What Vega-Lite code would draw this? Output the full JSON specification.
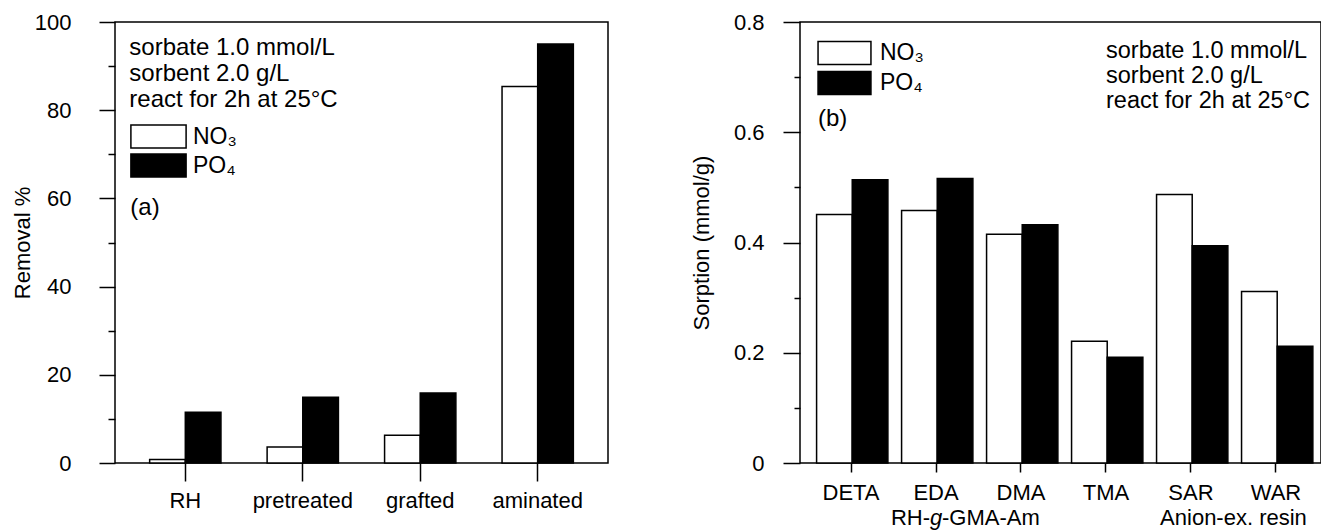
{
  "$schema": "https://vega.github.io/schema/vega-lite/v6.json",
  "background": "white",
  "padding": {"left": 10, "top": 10, "right": 0, "bottom": 0},
  "datasets": {
    "a": [
      {"sample": "RH", "ion": "NO₃", "value": 0.8},
      {"sample": "RH", "ion": "PO₄", "value": 11.5},
      {"sample": "pretreated", "ion": "NO₃", "value": 3.6},
      {"sample": "pretreated", "ion": "PO₄", "value": 14.9},
      {"sample": "grafted", "ion": "NO₃", "value": 6.3},
      {"sample": "grafted", "ion": "PO₄", "value": 15.9},
      {"sample": "aminated", "ion": "NO₃", "value": 85.4},
      {"sample": "aminated", "ion": "PO₄", "value": 95.0}
    ],
    "b": [
      {"sorbent": "DETA", "ion": "NO₃", "value": 0.451},
      {"sorbent": "DETA", "ion": "PO₄", "value": 0.514},
      {"sorbent": "EDA", "ion": "NO₃", "value": 0.458},
      {"sorbent": "EDA", "ion": "PO₄", "value": 0.516},
      {"sorbent": "DMA", "ion": "NO₃", "value": 0.415},
      {"sorbent": "DMA", "ion": "PO₄", "value": 0.432},
      {"sorbent": "TMA", "ion": "NO₃", "value": 0.221},
      {"sorbent": "TMA", "ion": "PO₄", "value": 0.192},
      {"sorbent": "SAR", "ion": "NO₃", "value": 0.487},
      {"sorbent": "SAR", "ion": "PO₄", "value": 0.394},
      {"sorbent": "WAR", "ion": "NO₃", "value": 0.311},
      {"sorbent": "WAR", "ion": "PO₄", "value": 0.212}
    ],
    "one": [{}]
  },
  "spacing": 80,
  "resolve": {"scale": {"color": "independent"}, "legend": {"color": "independent"}},
  "hconcat": [
    {
      "width": 493,
      "height": 441,
      "layer": [
        {
          "data": {"name": "a"},
          "mark": {"type": "bar", "stroke": "black", "strokeWidth": 1.5},
          "encoding": {
            "x": {
              "field": "sample", "type": "nominal", "sort": null,
              "scale": {"paddingInner": 0.393, "paddingOuter": 0.295},
              "axis": {"title": null, "labelAngle": 0, "tickSize": 18, "labelPadding": 9, "domain": false}
            },
            "xOffset": {"field": "ion", "type": "nominal", "scale": {"paddingInner": 0, "paddingOuter": 0}},
            "y": {
              "field": "value", "type": "quantitative",
              "scale": {"domain": [0, 100], "nice": false},
              "axis": {
                "title": "Removal %",
                "titlePadding": 0,
                "values": [0, 10, 20, 30, 40, 50, 60, 70, 80, 90, 100],
                "labelExpr": "datum.value % 20 === 0 ? datum.label : ''",
                "tickSize": {"condition": {"test": "datum.value % 20 === 0", "value": 16}, "value": 7},
                "labelPadding": 28,
                "domain": false
              }
            },
            "color": {
              "field": "ion", "type": "nominal",
              "scale": {"domain": ["NO₃", "PO₄"], "range": ["white", "black"]},
              "legend": {
                "orient": "none", "legendX": 31, "legendY": 102, "title": null,
                "symbolType": "M-2.4,-1H2.4V1H-2.4Z", "symbolSize": 529,
                "symbolStrokeColor": "black", "symbolStrokeWidth": 1.5,
                "labelFontSize": 23, "labelOffset": 22, "rowPadding": 0, "padding": 0,
                "labelColor": "black"
              }
            }
          }
        },
        {
          "data": {"name": "one"},
          "mark": {"type": "text", "align": "left", "baseline": "alphabetic", "fontSize": 24, "lineHeight": 26, "dx": -56,
            "text": ["sorbate 1.0 mmol/L", "sorbent 2.0 g/L", "react for 2h at 25°C"]},
          "encoding": {"x": {"datum": "RH", "type": "nominal"}, "y": {"datum": 92.6, "type": "quantitative"}}
        },
        {
          "data": {"name": "one"},
          "mark": {"type": "text", "align": "left", "baseline": "middle", "fontSize": 24, "dx": -55, "text": "(a)"},
          "encoding": {"x": {"datum": "RH", "type": "nominal"}, "y": {"datum": 57.8, "type": "quantitative"}}
        }
      ]
    },
    {
      "width": 521,
      "height": 441,
      "layer": [
        {
          "data": {"name": "b"},
          "mark": {"type": "bar", "stroke": "black", "strokeWidth": 1.5},
          "encoding": {
            "x": {
              "field": "sorbent", "type": "nominal", "sort": null,
              "scale": {"paddingInner": 0.19, "paddingOuter": 0.16, "align": 0.61},
              "axis": {"title": null, "labelAngle": 0, "tickSize": 9, "labelPadding": 10, "domain": false}
            },
            "xOffset": {"field": "ion", "type": "nominal", "scale": {"paddingInner": 0, "paddingOuter": 0}},
            "y": {
              "field": "value", "type": "quantitative",
              "scale": {"domain": [0, 0.8], "nice": false},
              "axis": {
                "title": "Sorption (mmol/g)",
                "titlePadding": 20,
                "values": [0, 0.1, 0.2, 0.3, 0.4, 0.5, 0.6, 0.7, 0.8],
                "labelExpr": "round(datum.value * 10) % 2 === 0 ? (datum.value === 0 ? '0' : format(datum.value, '.1f')) : ''",
                "tickSize": {"condition": {"test": "round(datum.value * 10) % 2 === 0", "value": 17}, "value": 6},
                "labelPadding": 19,
                "domain": false
              }
            },
            "color": {
              "field": "ion", "type": "nominal",
              "scale": {"domain": ["NO₃", "PO₄"], "range": ["white", "black"]},
              "legend": {
                "orient": "none", "legendX": 32, "legendY": 18.5, "title": null,
                "symbolType": "M-2.3,-1H2.3V1H-2.3Z", "symbolSize": 529,
                "symbolStrokeColor": "black", "symbolStrokeWidth": 1.5,
                "labelFontSize": 23, "labelOffset": 23, "rowPadding": 1, "padding": 0,
                "labelColor": "black"
              }
            }
          }
        },
        {
          "data": {"name": "one"},
          "mark": {"type": "text", "align": "left", "baseline": "alphabetic", "fontSize": 23.5, "lineHeight": 25, "dx": 0,
            "text": ["sorbate 1.0 mmol/L", "sorbent 2.0 g/L", "react for 2h at 25°C"]},
          "encoding": {"x": {"datum": "TMA", "type": "nominal"}, "y": {"datum": 0.7347, "type": "quantitative"}}
        },
        {
          "data": {"name": "one"},
          "mark": {"type": "text", "align": "left", "baseline": "middle", "fontSize": 24, "dx": -33, "text": "(b)"},
          "encoding": {"x": {"datum": "DETA", "type": "nominal"}, "y": {"datum": 0.624, "type": "quantitative"}}
        },
        {
          "data": {"name": "one"},
          "mark": {"type": "text", "align": "right", "baseline": "middle", "fontSize": 22, "dx": -6, "text": "RH-"},
          "encoding": {"x": {"datum": "EDA", "type": "nominal"}, "y": {"datum": -0.1, "type": "quantitative"}}
        },
        {
          "data": {"name": "one"},
          "mark": {"type": "text", "align": "center", "baseline": "middle", "fontSize": 22, "fontStyle": "italic", "text": "g"},
          "encoding": {"x": {"datum": "EDA", "type": "nominal"}, "y": {"datum": -0.1, "type": "quantitative"}}
        },
        {
          "data": {"name": "one"},
          "mark": {"type": "text", "align": "left", "baseline": "middle", "fontSize": 22, "dx": 6, "text": "-GMA-Am"},
          "encoding": {"x": {"datum": "EDA", "type": "nominal"}, "y": {"datum": -0.1, "type": "quantitative"}}
        },
        {
          "data": {"name": "one"},
          "mark": {"type": "text", "align": "center", "baseline": "middle", "fontSize": 22, "dx": 42.5, "text": "Anion-ex. resin"},
          "encoding": {"x": {"datum": "SAR", "type": "nominal"}, "y": {"datum": -0.1, "type": "quantitative"}}
        }
      ]
    }
  ],
  "config": {
    "font": "Liberation Sans",
    "view": {"stroke": "black", "strokeWidth": 1.5},
    "text": {"color": "black", "font": "Liberation Sans"},
    "axis": {
      "domainColor": "black", "domainWidth": 1.5, "tickColor": "black", "tickWidth": 1.5,
      "labelColor": "black", "titleColor": "black", "labelFontSize": 22, "titleFontSize": 22,
      "titleFontWeight": "normal", "grid": false, "labelFont": "Liberation Sans", "titleFont": "Liberation Sans"
    },
    "legend": {"labelFont": "Liberation Sans"}
  }
}
